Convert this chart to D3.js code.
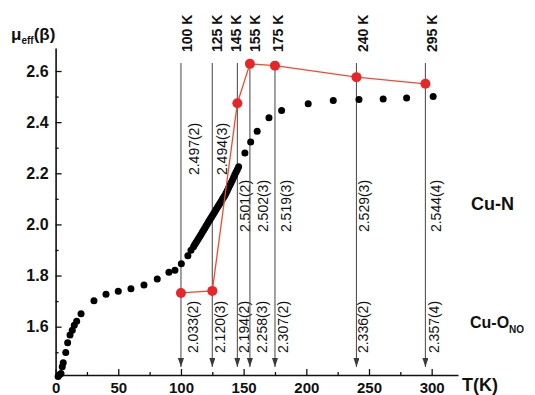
<!DOCTYPE html>
<html>
<head>
<meta charset="utf-8">
<script src="https://cdn.jsdelivr.net/npm/d3@7"></script>
<style>
  body { margin: 0; background: #fff; }
  text { font-family: Arial, "Liberation Sans", sans-serif; }
</style>
</head>
<body>
<svg id="chart" width="535" height="395"></svg>
<script>
// Effective magnetic moment vs temperature
const tempK = [2, 3, 4.3, 5.3, 6.1, 8.1, 9.6, 11.5, 13.3, 14.9, 16.8, 20.3, 30.6, 40.2, 50, 60.1, 70.5, 81.1, 90.4, 95.2,
  100.3, 105.5, 108,
  110, 111, 112, 113, 114, 115, 116, 117, 118, 119, 120, 121, 122, 123, 124, 125, 126, 127, 128, 129, 130,
  131, 132, 133, 134, 135, 136, 137, 138, 139, 140, 141, 142, 143, 144, 145, 146,
  151, 155.6, 160.8, 170.2, 180.3, 201.5, 221.5, 242, 261.3, 280, 301.2];
const muEff = [1.405, 1.412, 1.417, 1.443, 1.459, 1.499, 1.537, 1.567, 1.586, 1.606, 1.621, 1.651, 1.701, 1.727, 1.739, 1.748, 1.763, 1.786, 1.813, 1.821,
  1.846, 1.877, 1.899,
  1.913, 1.921, 1.929, 1.937, 1.945, 1.953, 1.961, 1.969, 1.977, 1.985, 1.994, 2.002, 2.010, 2.018, 2.026, 2.034, 2.042, 2.050, 2.058, 2.066, 2.074,
  2.082, 2.090, 2.098, 2.106, 2.113, 2.123, 2.133, 2.143, 2.153, 2.163, 2.173, 2.184, 2.195, 2.205, 2.215, 2.226,
  2.279, 2.322, 2.364, 2.417, 2.446, 2.472, 2.485, 2.489, 2.491, 2.494, 2.500];

// Structure temperatures with Cu–N and Cu–O(NO) distances
const siteTemps = [100, 125, 145, 155, 175, 240, 295];
const siteLabels = ["100 K", "125 K", "145 K", "155 K", "175 K", "240 K", "295 K"];
const cuNDist = ["2.497(2)", "2.494(3)", "2.501(2)", "2.502(3)", "2.519(3)", "2.529(3)", "2.544(4)"];
const cuODist = ["2.033(2)", "2.120(3)", "2.194(2)", "2.258(3)", "2.307(2)", "2.336(2)", "2.357(4)"];
const siteMoment = [1.732, 1.740, 2.474, 2.628, 2.621, 2.576, 2.550];

const xMajor = [0, 50, 100, 150, 200, 250, 300];
const xMinor = [25, 75, 125, 175, 225, 275];
const yMajor = [1.6, 1.8, 2.0, 2.2, 2.4, 2.6];
const yMinor = [1.5, 1.7, 1.9, 2.1, 2.3, 2.5];

// horizontal nudges of the rotated annotations relative to each marker line
const headNudge = [10.7, 9.3, 3.3, 10, 8.3, 11.7, 11.2];
const cuNNudge = [18.5, 15.5, 13, 18.5, 17, 13, 16.5];
const cuONudge = [17.8, 12.9, 11.8, 17.2, 13.8, 12, 14.3];

const svg = d3.select("#chart");
const x = d3.scaleLinear().domain([0, 321]).range([55.6, 458]);
const y = d3.scaleLinear().domain([1.411, 2.69]).range([375, 48]);

// arrowhead for the temperature markers
svg.append("defs").append("marker")
  .attr("id", "arrow").attr("viewBox", "0 0 6 9")
  .attr("refX", 3).attr("refY", 9)
  .attr("markerWidth", 6).attr("markerHeight", 9)
  .attr("markerUnits", "userSpaceOnUse")
  .attr("orient", "0")
  .append("path").attr("d", "M0,0 L6,0 L3,9 Z").attr("fill", "#3a3a3a");

// vertical temperature markers
const marks = svg.append("g");
siteTemps.forEach((t, i) => {
  const px = x(t);
  marks.append("line")
    .attr("x1", px).attr("x2", px)
    .attr("y1", 63).attr("y2", 367)
    .attr("stroke", "#555").attr("stroke-width", 1.1)
    .attr("marker-end", "url(#arrow)");
  marks.append("text")
    .attr("transform", `translate(${px + headNudge[i]},52) rotate(-90)`)
    .attr("font-size", 14).attr("font-weight", "bold")
    .attr("fill", "#111")
    .text(siteLabels[i]);
  const topY = i < 2 ? 149 : 206;
  marks.append("text")
    .attr("transform", `translate(${px + cuNNudge[i] - 0.5},${topY}) rotate(-90)`)
    .attr("text-anchor", "middle")
    .attr("font-size", 14).attr("fill", "#111")
    .text(cuNDist[i]);
  marks.append("text")
    .attr("transform", `translate(${px + cuONudge[i] - 0.5},${327}) rotate(-90)`)
    .attr("text-anchor", "middle")
    .attr("font-size", 14).attr("fill", "#111")
    .text(cuODist[i]);
});

// axes with inward ticks
const gx = svg.append("g").attr("transform", "translate(0,375)");
gx.call(d3.axisBottom(x).tickValues(xMajor).tickSize(-6).tickSizeOuter(0).tickPadding(7).tickFormat(d3.format("d")));
svg.append("g").attr("transform", "translate(0,375)")
  .call(d3.axisBottom(x).tickValues(xMinor).tickSize(-3).tickSizeOuter(0).tickFormat(""))
  .select(".domain").remove();
const gy = svg.append("g").attr("transform", "translate(55.6,0)");
gy.call(d3.axisLeft(y).tickValues(yMajor).tickSize(-6).tickSizeOuter(0).tickPadding(7).tickFormat(d3.format(".1f")));
svg.append("g").attr("transform", "translate(55.6,0)")
  .call(d3.axisLeft(y).tickValues(yMinor).tickSize(-3).tickSizeOuter(0).tickFormat(""))
  .select(".domain").remove();

svg.selectAll(".domain").attr("stroke", "#111").attr("stroke-width", 1.6);
svg.selectAll(".tick line").attr("stroke", "#111").attr("stroke-width", 1.3);
svg.selectAll(".tick text")
  .attr("font-family", "Arial, 'Liberation Sans', sans-serif")
  .attr("font-weight", "bold").attr("fill", "#111");
gx.selectAll(".tick text").attr("font-size", 15);
gy.selectAll(".tick text").attr("font-size", 16);

// magnetic moment data
svg.append("g").selectAll("circle")
  .data(tempK.map((t, i) => [t, muEff[i]]))
  .join("circle")
  .attr("cx", d => x(d[0])).attr("cy", d => y(d[1]))
  .attr("r", 3.5).attr("fill", "#000");

// values at the structure temperatures
const line = d3.line().x((d, i) => x(siteTemps[i])).y(d => y(d));
svg.append("path").datum(siteMoment)
  .attr("d", line).attr("fill", "none")
  .attr("stroke", "#f24a2e").attr("stroke-width", 1.3);
svg.append("g").selectAll("circle")
  .data(siteMoment)
  .join("circle")
  .attr("cx", (d, i) => x(siteTemps[i])).attr("cy", d => y(d))
  .attr("r", 5).attr("fill", "#e8262a");

// axis titles
const yt = svg.append("text").attr("x", 11).attr("y", 40)
  .attr("font-size", 17).attr("font-weight", "bold").attr("fill", "#111");
yt.append("tspan").text("μ");
yt.append("tspan").attr("font-size", 10).attr("dy", 4).text("eff");
yt.append("tspan").attr("dy", -4).text("(β)");

svg.append("text").attr("x", 462).attr("y", 391)
  .attr("font-size", 18).attr("font-weight", "bold").attr("fill", "#111")
  .text("T(K)");

svg.append("text").attr("x", 471).attr("y", 210)
  .attr("font-size", 18).attr("font-weight", "bold").attr("fill", "#111")
  .text("Cu-N");
const co = svg.append("text").attr("x", 470).attr("y", 328)
  .attr("font-size", 16).attr("font-weight", "bold").attr("fill", "#111");
co.append("tspan").text("Cu-O");
co.append("tspan").attr("font-size", 10).attr("dy", 5).text("NO");
</script>
</body>
</html>
